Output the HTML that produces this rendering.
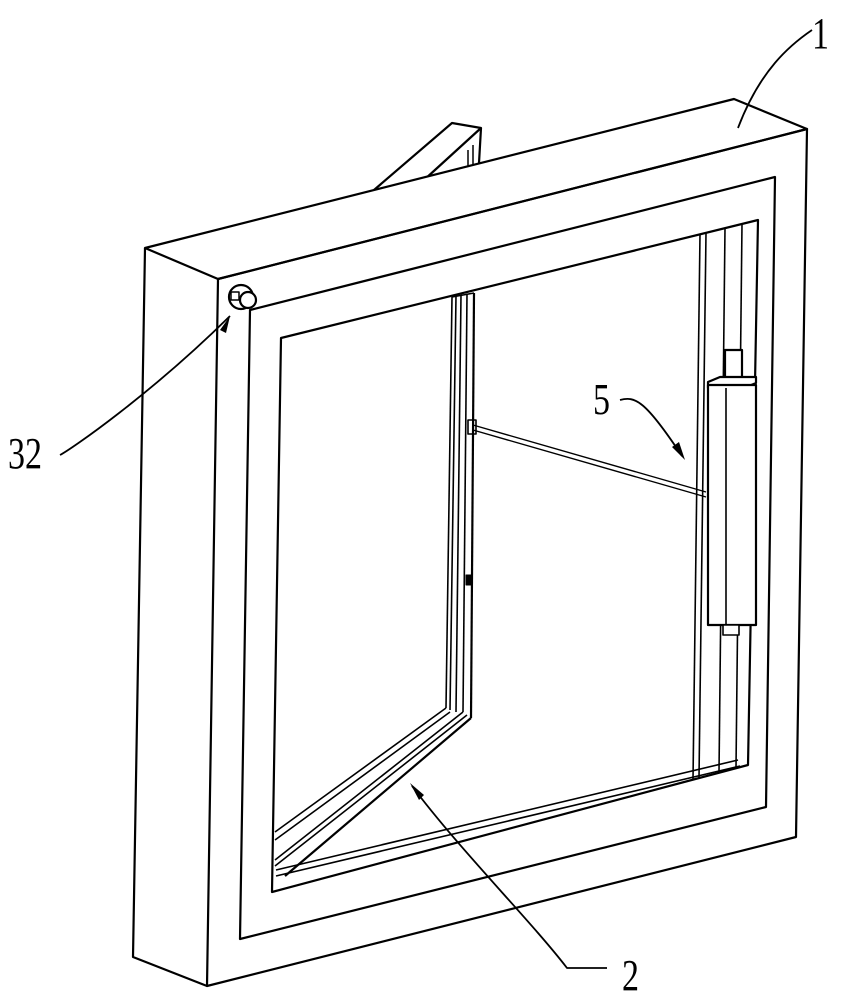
<!DOCTYPE html>
<html><head><meta charset="utf-8"><style>
html,body{margin:0;padding:0;background:#fff;}
svg{display:block}
text{font-family:"Liberation Serif",serif;fill:#000}
</style></head><body>
<svg width="842" height="1000" viewBox="0 0 842 1000" xmlns="http://www.w3.org/2000/svg">
<g fill="none" stroke="#000" stroke-width="2.2" stroke-linejoin="round">
<polyline points="374,190 452,123 481,128 479,163"/>
<line x1="424" y1="180" x2="481" y2="128"/>
<line x1="468" y1="150" x2="468" y2="168" stroke-width="1.5"/>
<line x1="473" y1="145" x2="473" y2="166" stroke-width="1.5"/>
<polygon points="145,248 734,99 807,129 218,279" fill="#fff"/>
<polyline points="145,248 133,957 207,986"/>
<polygon points="218,279 807,129 796,837 207,986"/>
<polygon points="250,310 775,177 766,807 240,939"/>
<polygon points="281,338 758,220 748,765 272,892"/>
<line x1="276" y1="876" x2="740" y2="766" stroke-width="1.6"/>
<line x1="276" y1="870" x2="738" y2="760" stroke-width="1.6"/>
<line x1="700" y1="234" x2="693" y2="780" stroke-width="1.6"/>
<line x1="706" y1="233" x2="699" y2="778" stroke-width="1.6"/>
<line x1="725" y1="228" x2="719" y2="772" stroke-width="1.6"/>
<line x1="742" y1="224" x2="736" y2="768" stroke-width="1.6"/>
<line x1="452" y1="297" x2="446" y2="708" stroke-width="1.6"/>
<line x1="456" y1="296" x2="450" y2="710" stroke-width="1.6"/>
<line x1="461" y1="295" x2="456" y2="712" stroke-width="1.6"/>
<line x1="467" y1="294" x2="463" y2="712" stroke-width="1.6"/>
<line x1="474" y1="293" x2="471" y2="718"/>
<line x1="452" y1="297" x2="474" y2="293" stroke-width="1.6"/>
<line x1="446" y1="708" x2="275" y2="832" stroke-width="1.6"/>
<line x1="450" y1="712" x2="275" y2="840" stroke-width="1.6"/>
<line x1="463" y1="712" x2="275" y2="860" stroke-width="1.6"/>
<line x1="467" y1="715" x2="275" y2="866" stroke-width="1.6"/>
<line x1="471" y1="718" x2="285" y2="876"/>
<line x1="473" y1="425" x2="706" y2="492" stroke-width="1.4"/>
<line x1="473" y1="430" x2="706" y2="497" stroke-width="1.4"/>
<rect x="468" y="420" width="8" height="14" stroke-width="1.6"/>
<rect x="466" y="575" width="5" height="10" fill="#000" stroke-width="1"/>
<rect x="725" y="350" width="17" height="30" fill="#fff"/>
<polygon points="708,382 720,377 756,377 756,383 744,388 708,388" fill="#fff"/>
<rect x="708" y="385" width="48" height="240" fill="#fff"/>
<line x1="726" y1="388" x2="726" y2="625" stroke-width="1.6"/>
<rect x="723" y="625" width="16" height="10" fill="#fff" stroke-width="1.6"/>
<circle cx="241" cy="297" r="12" fill="#fff"/>
<circle cx="248" cy="300" r="8" fill="#fff"/>
<rect x="231" y="292" width="8" height="8" stroke-width="1.5"/>
<path d="M812,30 C790,45 760,70 738,128" stroke-width="1.8"/>
<path d="M60,455 C70,450 150,395 230,316" stroke-width="1.8"/>
<path d="M620,400 C635,396 645,400 682,456" stroke-width="1.8"/>
<path d="M607,968 L567,968 C530,920 460,850 412,786" stroke-width="1.8"/>
</g>
<g fill="#000">
<polygon points="230,316 220,330 226,333"/>
<polygon points="685,460 672,447 679,442"/>
<polygon points="410,783 419,800 424,795"/>
</g>
<text x="812" y="48" font-size="40" transform="translate(812,48) scale(0.85,1.1) translate(-812,-48)">1</text>
<text x="8" y="468" font-size="40" transform="translate(8,468) scale(0.85,1.1) translate(-8,-468)">32</text>
<text x="593" y="414" font-size="40" transform="translate(593,414) scale(0.85,1.1) translate(-593,-414)">5</text>
<text x="622" y="990" font-size="40" transform="translate(622,990) scale(0.85,1.1) translate(-622,-990)">2</text>
</svg>
</body></html>
